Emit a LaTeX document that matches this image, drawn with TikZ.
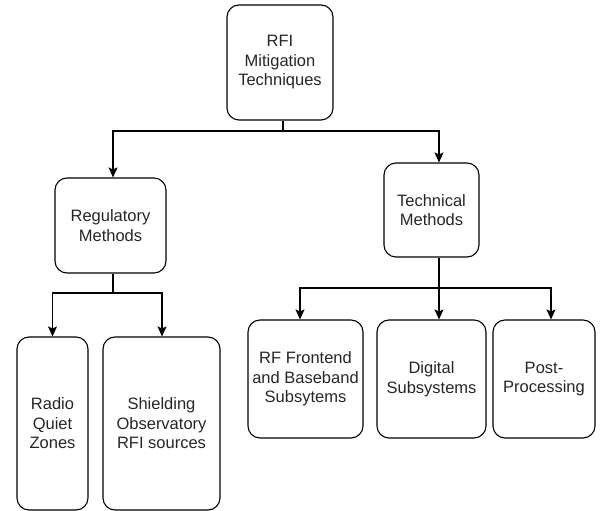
\documentclass[tikz,border=0pt]{standalone}
\usepackage{fontspec}
\setmainfont{Liberation Sans}
\usetikzlibrary{arrows.meta}

\begin{document}
\begin{tikzpicture}[x=1pt, y=-1pt,
        box/.style={draw, rectangle, rounded corners=12pt, line width=1.1pt,
            align=center, inner sep=0pt, text=black!85,
            font=\fontsize{16.5}{19.5}\selectfont},
        link/.style={line width=1.1pt},
        arr/.style={link, -{Stealth[length=10pt, width=9pt, inset=2pt]}}]

        \useasboundingbox (0,0) rectangle (603,511);

        % top of the tree
        \node[name=rfi, box, minimum width=106pt, minimum height=115pt] at (280, 62.5) {RFI\\Mitigation\\Techniques};

        % second level
        \node[name=reg, box, minimum width=111pt, minimum height=95pt] at (110.5, 225.5) {Regulatory\\Methods};
        \node[name=tech, box, minimum width=95pt, minimum height=94pt] at (431.5, 210) {Technical\\Methods};

        % leaves under the regulatory branch
        \node[name=radio, box, minimum width=71pt, minimum height=173pt] at (52.5, 423.5) {Radio\\Quiet\\Zones};
        \node[name=shield, box, minimum width=117pt, minimum height=173pt] at (161.5, 423.5) {Shielding\\Observatory\\RFI sources};

        % leaves under the technical branch
        \node[name=rf, box, minimum width=115pt, minimum height=118pt] at (305.5, 379) {RF Frontend\\and Baseband\\Subsytems};
        \node[name=dig, box, minimum width=109pt, minimum height=118pt] at (431.5, 379) {Digital\\Subsystems};
        \node[name=post, box, minimum width=102pt, minimum height=118pt] at (544, 379) {Post-\\Processing};

        % junction points of the connectors
        \coordinate (j_rfi) at (283, 131);
        \coordinate (j_reg) at (113, 293);
        \coordinate (j_tech) at (439, 288);

        \draw[link] (rfi.south -| j_rfi) -- (j_rfi);
        \draw[arr] (j_rfi) -| ([xshift=2.5pt]reg.north);
        \draw[arr] (j_rfi) -| ([xshift=7.5pt]tech.north);

        \draw[link] (reg.south -| j_reg) -- (j_reg);
        \draw[arr] (j_reg) -| (radio.north);
        \draw[arr] (j_reg) -| ([xshift=0.5pt]shield.north);

        \draw[link] (tech.south -| j_tech) -- (j_tech);
        \draw[arr] (j_tech) -| ([xshift=-5.5pt]rf.north);
        \draw[arr] (j_tech) -- (dig.north -| j_tech);
        \draw[arr] (j_tech) -| ([xshift=7pt]post.north);
    \end{tikzpicture}
\end{document}
